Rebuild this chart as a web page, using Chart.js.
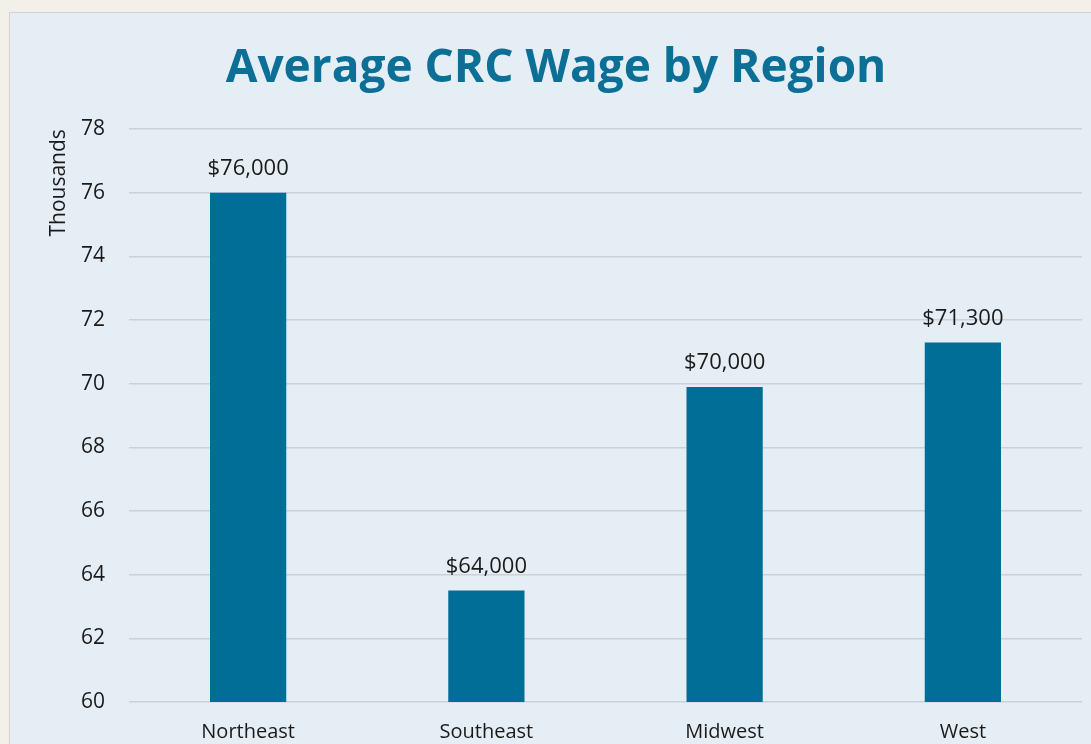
<!DOCTYPE html>
<html><head><meta charset="utf-8">
<script src="https://cdn.jsdelivr.net/npm/chart.js@4"></script>
<style>
html,body{margin:0;padding:0;background:#f3efe9;overflow:hidden;width:1091px;height:744px;}
#panel{position:absolute;left:9px;top:12px;width:1100px;height:800px;background:#e5eef5;border:1px solid #d6d3cd;box-sizing:border-box;}
#wrap{position:absolute;left:0;top:0;width:1091px;height:760px;}
</style></head>
<body>
<div id="panel"></div>
<div id="wrap"><canvas id="c"></canvas></div>
<script>
const categories = ["Northeast", "Southeast", "Midwest", "West"];
const wages = [76.0, 63.5, 69.9, 71.3];
const wageLabels = ["$76,000", "$64,000", "$70,000", "$71,300"];
const yTicks = [60, 62, 64, 66, 68, 70, 72, 74, 76, 78];

const FONT = "'Open Sans', 'Noto Sans', sans-serif";

const valueLabelPlugin = {
  id: 'valueLabels',
  afterDatasetsDraw(chart) {
    const ctx = chart.ctx;
    const meta = chart.getDatasetMeta(0);
    ctx.save();
    ctx.font = "22px " + FONT;
    ctx.fillStyle = "#1a1a1a";
    ctx.textAlign = "center";
    ctx.textBaseline = "middle";
    meta.data.forEach((bar, i) => {
      ctx.fillText(wageLabels[i], bar.x, bar.y - 24);
    });
    ctx.restore();
  }
};

new Chart(document.getElementById('c'), {
  type: 'bar',
  data: {
    labels: categories,
    datasets: [{
      data: wages,
      backgroundColor: '#006e96',
      borderWidth: 0,
      categoryPercentage: 1.0,
      barPercentage: 0.32
    }]
  },
  options: {
    responsive: true,
    maintainAspectRatio: false,
    animation: false,
    layout: { padding: { left: 30, right: 9, top: 41, bottom: 6 } },
    plugins: {
      legend: { display: false },
      tooltip: { enabled: false },
      title: {
        display: true,
        text: 'Average CRC Wage by Region',
        color: '#0b6f96',
        font: { family: FONT, size: 46, weight: 'bold' },
        padding: { top: 0, bottom: 33 }
      }
    },
    scales: {
      x: {
        grid: { display: false },
        border: { display: false },
        ticks: { color: '#1a1a1a', font: { family: FONT, size: 20 }, padding: 10 }
      },
      y: {
        min: 60, max: 78,
        afterBuildTicks(axis) { axis.ticks = yTicks.map(v => ({ value: v })); },
        afterFit(axis) { axis.width = 99; },
        grid: { color: '#c8d2d8', lineWidth: 1.5, drawTicks: false },
        border: { display: false },
        ticks: { color: '#1a1a1a', font: { family: FONT, size: 21 }, padding: 24 },
        title: { display: true, text: 'Thousands', align: 'end', color: '#1a1a1a', font: { family: FONT, size: 21 }, padding: { top: 16, bottom: 10 } }
      }
    }
  },
  plugins: [valueLabelPlugin]
});
</script>
</body></html>
